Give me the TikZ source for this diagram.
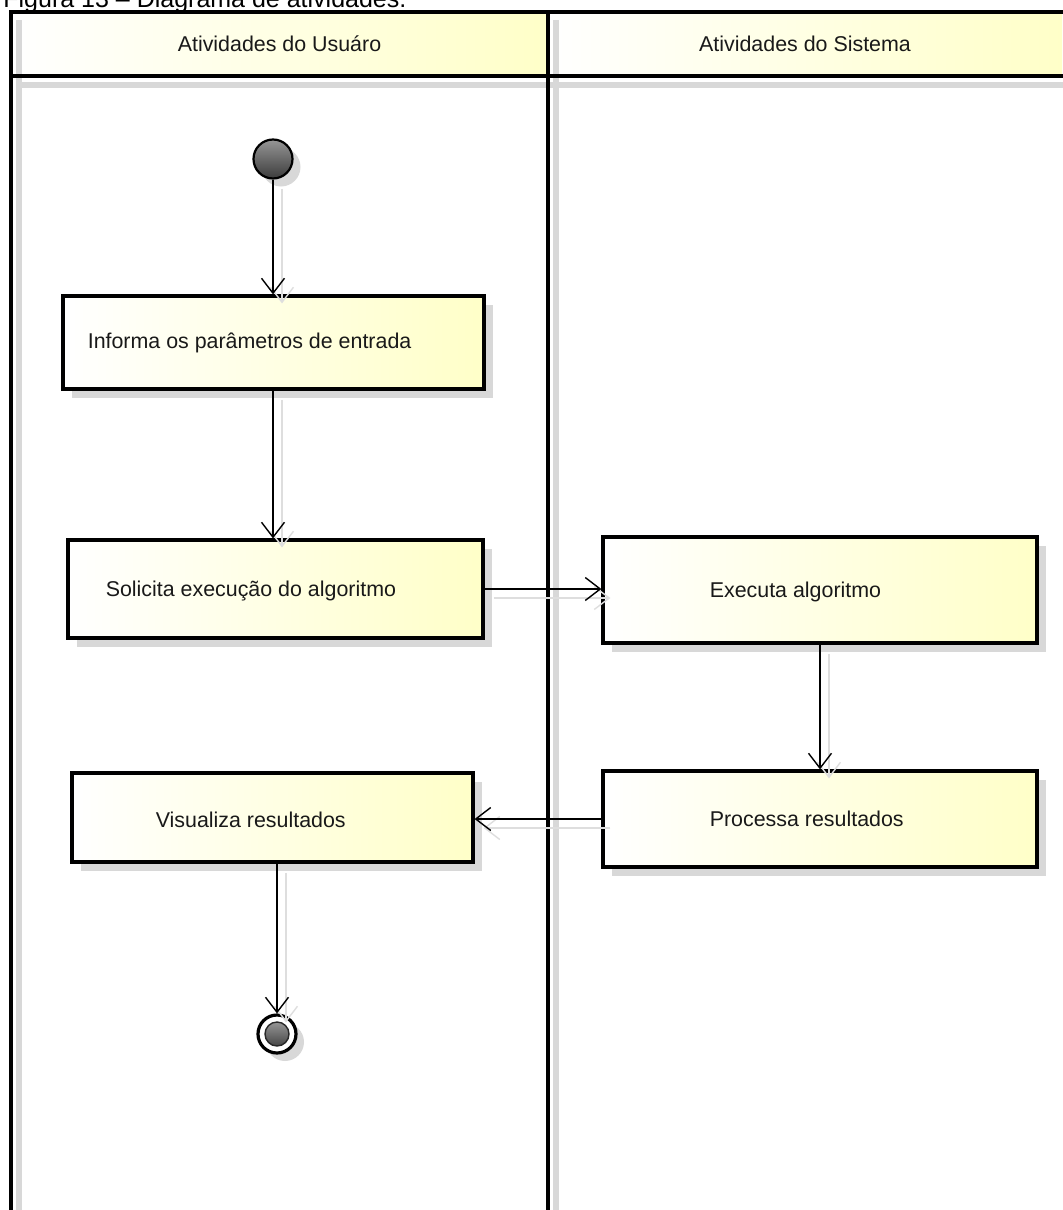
\documentclass[tikz,border=0pt]{standalone}
\usepackage{fontspec}
\setmainfont{Liberation Sans}
\usetikzlibrary{arrows.meta,shadows,calc}
\definecolor{paleyel}{RGB}{255,255,200}
\definecolor{shad}{RGB}{216,216,216}
\definecolor{lshad}{RGB}{222,222,222}
\definecolor{txt}{RGB}{25,25,25}
\begin{document}
\begin{tikzpicture}[x=0.5pt,y=-0.5pt,
  lanehead/.style={inner sep=0pt, left color=white, right color=paleyel, text=txt,
    font=\fontsize{10.7}{13}\selectfont},
  laneline/.style={draw=black, line width=1.8pt},
  laneshadow/.style={draw=shad, line width=3pt},
  actbox/.style={draw=black, line width=1.6pt, inner sep=0pt,
    left color=white, right color=paleyel,
    drop shadow={shadow xshift=4.5pt, shadow yshift=-4.5pt, fill=shad, opacity=1}},
  lbl/.style={anchor=west, inner sep=0pt, text=txt, font=\fontsize{10.7}{13}\selectfont},
  startnode/.style={circle, draw=black, line width=1.1pt, minimum size=19.5pt, inner sep=0pt,
    top color={rgb,255:red,150;green,150;blue,150}, bottom color={rgb,255:red,60;green,60;blue,60},
    drop shadow={shadow xshift=4pt, shadow yshift=-4pt, fill=shad, opacity=1}},
  endouter/.style={circle, draw=black, line width=1.6pt, minimum size=19pt, inner sep=0pt, fill=white,
    drop shadow={shadow xshift=4pt, shadow yshift=-4pt, fill=shad, opacity=1}},
  endinner/.style={circle, draw={rgb,255:red,40;green,40;blue,40}, line width=0.7pt, minimum size=12pt, inner sep=0pt,
    top color={rgb,255:red,150;green,150;blue,150}, bottom color={rgb,255:red,70;green,70;blue,70}},
  flow/.style={draw=black, line width=0.7pt, -{Straight Barb[length=7.5pt,width=11.5pt,line width=0.7pt]}},
  flowshadow/.style={draw=lshad, line width=0.7pt, -{Straight Barb[length=7.5pt,width=11.5pt,line width=0.7pt]},
    transform canvas={shift={(9,9)}}}
]
\useasboundingbox (0,0) rectangle (1062,1210);

% caption (cut by the top edge, as in the reference)
\node[anchor=base west, inner sep=0pt, text=black, font=\fontsize{12.5}{15}\selectfont] (cap) at (3,8)
  {Figura 13 – Diagrama de atividades.};

% lane headers
\node[lanehead, minimum width=268.5pt, minimum height=32pt] (h1) at (279.5,44) {Atividades do Usuáro};
\node[lanehead, minimum width=257pt, minimum height=32pt] (h2) at (805,44) {Atividades do Sistema};

% lane shadows
\draw[laneshadow] (18.5,20) -- (18.5,1220);
\draw[laneshadow] (556,20) -- (556,1220);
\draw[laneshadow] (18,85) -- (1070,85);

% lane lines
\draw[laneline] (11,12) -- (1070,12);
\draw[laneline] (11,76) -- (1070,76);
\draw[laneline] (11,10.2) -- (11,1220);
\draw[laneline] (548,10.2) -- (548,1220);

% activities
\node[startnode] (ini) at (273,159) {};
\node[actbox, minimum width=210.5pt, minimum height=46.5pt] (b1) at (273.5,342.5) {};
\node[actbox, minimum width=207.5pt, minimum height=49pt] (b2) at (275.5,589) {};
\node[actbox, minimum width=217pt, minimum height=53pt] (b3) at (820,590) {};
\node[actbox, minimum width=217pt, minimum height=48pt] (b4) at (820,819) {};
\node[actbox, minimum width=200.5pt, minimum height=44.5pt] (b5) at (272.5,817.5) {};
\node[endouter] (fin) at (277,1034) {};
\node[endinner] (fini) at (fin.center) {};

% connector shadows
\draw[flowshadow] (ini) -- (ini |- b1.north);
\draw[flowshadow] (b1.south -| ini) -- (ini |- b2.north);
\draw[flowshadow] (b2.east) -- (b2.east -| b3.west);
\draw[flowshadow] (b3.south) -- (b4.north);
\draw[flowshadow] (b4.west) -- (b4.west -| b5.east);
\draw[flowshadow] (b5.south -| fin) -- (fin);

% connectors
\draw[flow] (ini) -- (ini |- b1.north);
\draw[flow] (b1.south -| ini) -- (ini |- b2.north);
\draw[flow] (b2.east) -- (b2.east -| b3.west);
\draw[flow] (b3.south) -- (b4.north);
\draw[flow] (b4.west) -- (b4.west -| b5.east);
\draw[flow] (b5.south -| fin) -- (fin);

% labels
\node[lbl] (t1) at ([xshift=13pt]b1.west) {Informa os parâmetros de entrada};
\node[lbl] (t2) at ([xshift=19.5pt, yshift=-1pt]b2.west) {Solicita execução do algoritmo};
\node[lbl] (t3) at ([xshift=54pt, yshift=-1pt]b3.west) {Executa algoritmo};
\node[lbl] (t4) at ([xshift=54pt, yshift=0pt]b4.west) {Processa resultados};
\node[lbl] (t5) at ([xshift=42.5pt, yshift=-1pt]b5.west) {Visualiza resultados};
\end{tikzpicture}
\end{document}
